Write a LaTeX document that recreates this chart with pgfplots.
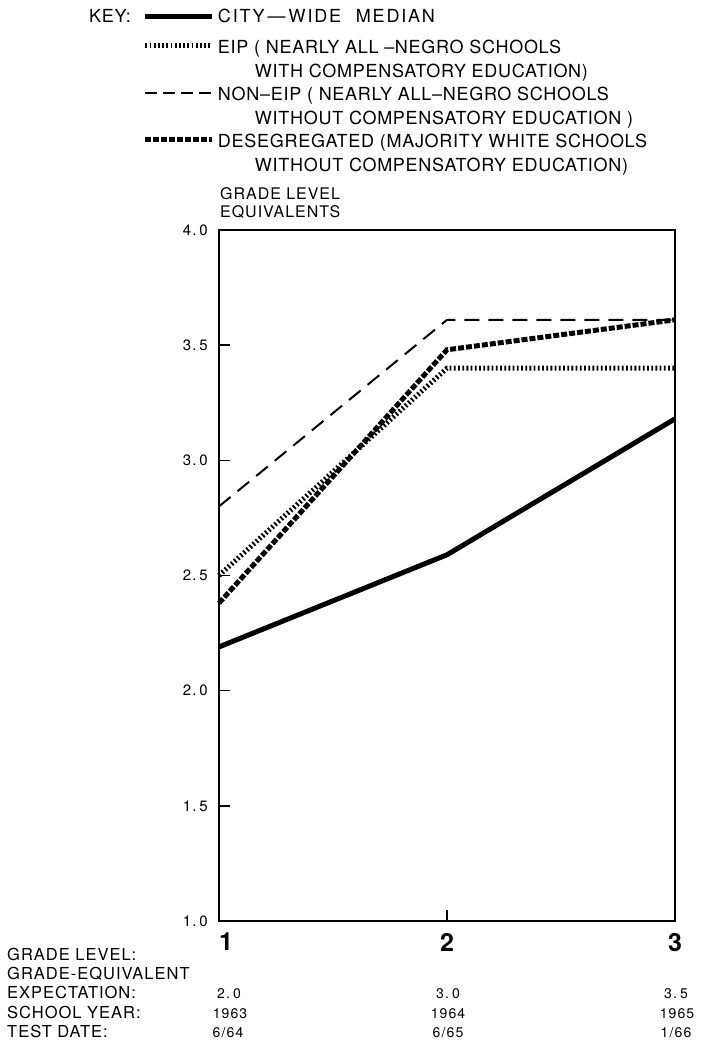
\documentclass[border=0pt]{standalone}
\usepackage{fontspec}
\setmainfont{TeX Gyre Heros}
\newfontfamily\keyfont[LetterSpace=4]{TeX Gyre Heros}
\newfontfamily\labfont[LetterSpace=6]{TeX Gyre Heros}
\newfontfamily\numfont[LetterSpace=8]{TeX Gyre Heros}
\usepackage{pgfplots}
\pgfplotsset{compat=1.18}
\newcommand{\Ts}{\rule{0pt}{13bp}}
\newcommand{\Bs}{\rule[-4bp]{0pt}{4bp}}
\begin{document}
\begin{tikzpicture}
\path[use as bounding box] (0,0) rectangle (701bp,1043bp);
\begin{axis}[
  at={(219bp,122bp)}, anchor=south west,
  scale only axis, width=456bp, height=691bp,
  xmin=1, xmax=3, ymin=1, ymax=4,
  clip=false,
  axis line style={line width=1.6bp},
  tick pos=left, tick align=inside,
  major tick length=11bp,
  every tick/.style={black, line width=1.6bp},
  xtick={1,2,3}, xticklabels={\hspace*{14bp}1,2,3},
  xticklabel style={font=\fontsize{25bp}{25bp}\selectfont\bfseries, inner sep=0pt, yshift=-12bp},
  ytick={1,1.5,2,2.5,3,3.5,4},
  yticklabels={1.\hspace{3bp}0,1.\hspace{3bp}5,2.\hspace{3bp}0,2.\hspace{3bp}5,3.\hspace{3bp}0,3.\hspace{3bp}5,4.\hspace{3bp}0},
  yticklabel style={font=\fontsize{15bp}{15bp}\selectfont\numfont, inner sep=0pt, xshift=-11bp},
  legend cell align=left,
  legend style={at={(-0.1667,1.3191)}, anchor=north west, draw=none, fill=none,
    inner sep=0pt, outer sep=0pt, row sep=8bp,
    font=\fontsize{18bp}{24bp}\selectfont\keyfont,
    nodes={inner sep=0pt, outer sep=0pt, align=left},
    /tikz/every odd column/.append style={column sep=3bp}},
]
\addplot[black, line width=5bp,
  legend image code/.code={\draw[black, line width=5bp] (0bp,0bp) -- (67bp,0bp);
    \path[draw=none, fill=none] (0bp,-15.5bp) rectangle (0.1bp,6bp);}]
  coordinates {(1,2.19) (2,2.59) (3,3.18)};
\addlegendentry{\Ts{\addfontfeature{LetterSpace=10}CITY\,—\,WIDE\hspace{8bp} MEDIAN}}
\addplot[black, line width=5bp, dash pattern=on 1.8bp off 2.4bp,
  legend image code/.code={\draw[black, line width=5bp, dash pattern=on 1.8bp off 2.4bp] (0bp,14bp) -- (67bp,14bp);}]
  coordinates {(1,2.50) (2,3.40) (3,3.40)};
\addlegendentry{\Ts EIP ( NEARLY ALL –NEGRO SCHOOLS\\\hspace*{37bp}WITH COMPENSATORY EDUCATION)\Bs}
\addplot[black, line width=2bp, dash pattern=on 15bp off 9bp,
  legend image code/.code={\draw[black, line width=2bp, dash pattern=on 12bp off 6bp] (0bp,14bp) -- (67bp,14bp);}]
  coordinates {(1,2.80) (2,3.61) (3,3.61)};
\addlegendentry{\Ts NON–EIP ( NEARLY ALL–NEGRO SCHOOLS\\\hspace*{37bp}WITHOUT COMPENSATORY EDUCATION )\Bs}
\addplot[black, line width=5bp, dash pattern=on 6bp off 2bp,
  legend image code/.code={\draw[black, line width=5bp, dash pattern=on 6bp off 2bp] (0bp,14bp) -- (67bp,14bp);}]
  coordinates {(1,2.38) (2,3.48) (3,3.61)};
\addlegendentry{\Ts DESEGREGATED (MAJORITY WHITE SCHOOLS\\\hspace*{37bp}WITHOUT COMPENSATORY EDUCATION)\Bs}
\end{axis}
\node[anchor=base west, inner sep=0pt, font=\fontsize{18bp}{18bp}\selectfont\keyfont] at (89bp,1020.5bp) {KEY:};
\node[anchor=base west, inner sep=0pt, font=\fontsize{16bp}{16bp}\selectfont\labfont] at (220bp,843bp) {GRADE LEVEL};
\node[anchor=base west, inner sep=0pt, font=\fontsize{16bp}{16bp}\selectfont\labfont] at (220bp,825bp) {EQUIVALENTS};
\begin{scope}[every node/.style={inner sep=0pt, font=\fontsize{16.5bp}{16.5bp}\selectfont\labfont}]
\node[anchor=base west] at (7bp,82bp) {GRADE LEVEL:};
\node[anchor=base west] at (7bp,63bp) {GRADE-EQUIVALENT};
\node[anchor=base west] at (7bp,44bp) {EXPECTATION:};
\node[anchor=base west] at (7bp,25bp) {SCHOOL YEAR:};
\node[anchor=base west] at (7bp,6bp) {TEST DATE:};
\end{scope}
\begin{scope}[every node/.style={inner sep=0pt, anchor=base, font=\fontsize{14bp}{14bp}\selectfont\numfont}]
\node at (229bp,44bp) {2.\hspace{3bp}0};
\node at (448bp,44bp) {3.\hspace{3bp}0};
\node at (676bp,44bp) {3.\hspace{3bp}5};
\node at (230bp,25bp) {1963};
\node at (448bp,25bp) {1964};
\node at (677bp,25bp) {1965};
\node at (228bp,6bp) {6/64};
\node at (448bp,6bp) {6/65};
\node at (676bp,6bp) {1/66};
\end{scope}
\end{tikzpicture}
\end{document}
